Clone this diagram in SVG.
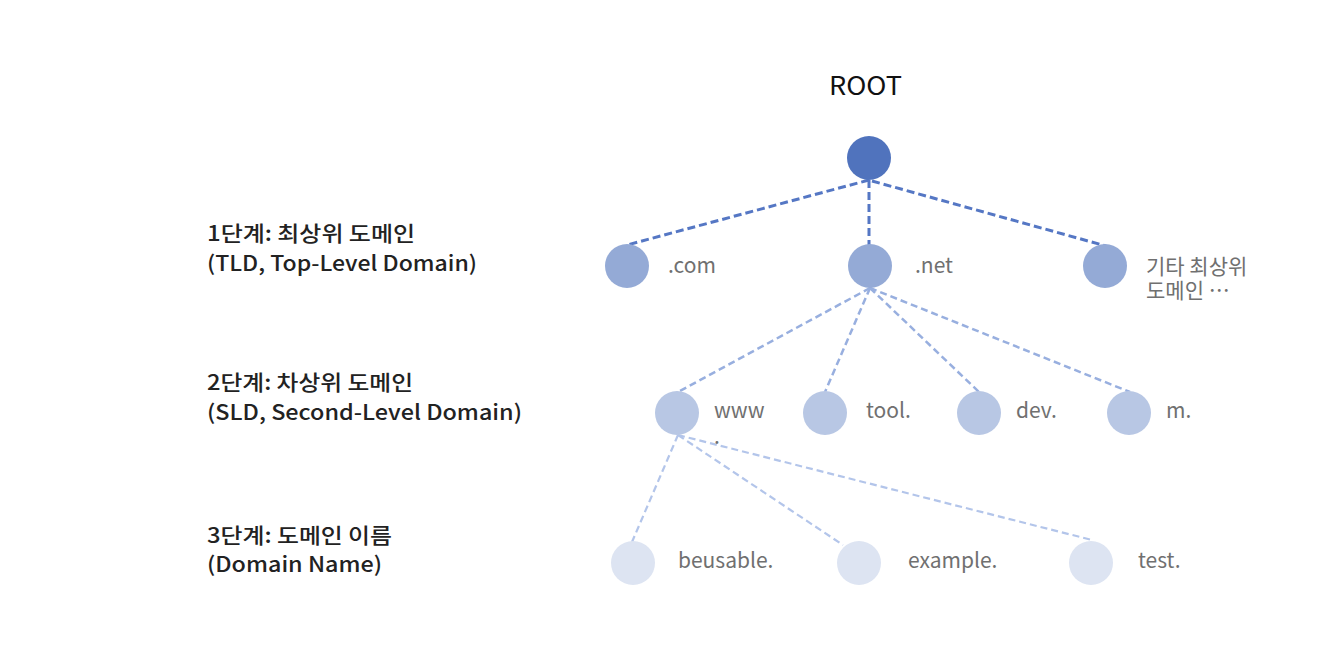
<svg xmlns="http://www.w3.org/2000/svg" width="1328" height="672" viewBox="0 0 1328 672">
<style>
text{font-family:"Noto Sans CJK KR","Noto Sans",sans-serif}
.lvl{font-size:21px;font-weight:500;fill:#222}
.root{font-size:25px;fill:#111}
.lab{font-size:21px;fill:#707070}
.c0{fill:#5073bd}
.c1{fill:#94aad6}
.c2{fill:#b8c7e4}
.c3{fill:#dde4f2}
.l1{stroke:#5577c4;stroke-width:3;stroke-dasharray:8 4;fill:none}
.l2{stroke:#98afdf;stroke-width:2.5;stroke-dasharray:7 4;fill:none}
.l3{stroke:#b3c5ea;stroke-width:2.2;stroke-dasharray:7 4;fill:none}
</style>
<rect width="1328" height="672" fill="#fff"/>
<g id="level-labels">
<text class="lvl" x="207" y="241" textLength="208" lengthAdjust="spacingAndGlyphs">1단계: 최상위 도메인</text>
<text class="lvl" x="207" y="271" textLength="270" lengthAdjust="spacingAndGlyphs">(TLD, Top-Level Domain)</text>
<text class="lvl" x="207" y="390" textLength="206" lengthAdjust="spacingAndGlyphs">2단계: 차상위 도메인</text>
<text class="lvl" x="207" y="420" textLength="315" lengthAdjust="spacingAndGlyphs">(SLD, Second-Level Domain)</text>
<text class="lvl" x="207" y="543" textLength="185" lengthAdjust="spacingAndGlyphs">3단계: 도메인 이름</text>
<text class="lvl" x="207" y="572" textLength="175" lengthAdjust="spacingAndGlyphs">(Domain Name)</text>
</g>
<g id="connectors">
<line class="l1" x1="869" y1="180" x2="627" y2="245"/>
<line class="l1" x1="869" y1="180" x2="869" y2="245"/>
<line class="l1" x1="872" y1="181" x2="1106" y2="246"/>
<line class="l2" x1="870" y1="288" x2="678" y2="392"/>
<line class="l2" x1="870" y1="288" x2="825" y2="392"/>
<line class="l2" x1="870" y1="288" x2="979" y2="392"/>
<line class="l2" x1="870" y1="288" x2="1130" y2="392"/>
<line class="l3" x1="678" y1="435" x2="632" y2="542"/>
<line class="l3" x1="678" y1="435" x2="843" y2="545"/>
<line class="l3" x1="678" y1="435" x2="1092" y2="540"/>
</g>
<g id="root">
<text class="root" x="829" y="95" textLength="73" lengthAdjust="spacingAndGlyphs">ROOT</text>
<circle class="c0" cx="869" cy="158" r="22"/>
</g>
<g id="tld-com">
<circle class="c1" cx="627" cy="266" r="22"/>
<text class="lab" x="668" y="273">.com</text>
</g>
<g id="tld-net">
<circle class="c1" cx="870" cy="266" r="22"/>
<text class="lab" x="915" y="273">.net</text>
</g>
<g id="tld-other">
<circle class="c1" cx="1105" cy="266" r="22"/>
<text class="lab" x="1146" y="274">기타 최상위<tspan x="1146" dy="24">도메인 …</tspan></text>
</g>
<g id="sld-www">
<circle class="c2" cx="677" cy="413" r="22"/>
<text class="lab" x="714" y="418">www<tspan x="714" dy="26">.</tspan></text>
</g>
<g id="sld-tool">
<circle class="c2" cx="825" cy="413" r="22"/>
<text class="lab" x="866" y="418">tool.</text>
</g>
<g id="sld-dev">
<circle class="c2" cx="979" cy="413" r="22"/>
<text class="lab" x="1016" y="418">dev.</text>
</g>
<g id="sld-m">
<circle class="c2" cx="1129" cy="413" r="22"/>
<text class="lab" x="1166" y="418">m.</text>
</g>
<g id="dn-beusable">
<circle class="c3" cx="633" cy="563" r="22"/>
<text class="lab" x="678" y="568">beusable.</text>
</g>
<g id="dn-example">
<circle class="c3" cx="859" cy="563" r="22"/>
<text class="lab" x="908" y="568">example.</text>
</g>
<g id="dn-test">
<circle class="c3" cx="1091" cy="563" r="22"/>
<text class="lab" x="1138" y="568">test.</text>
</g>
</svg>
